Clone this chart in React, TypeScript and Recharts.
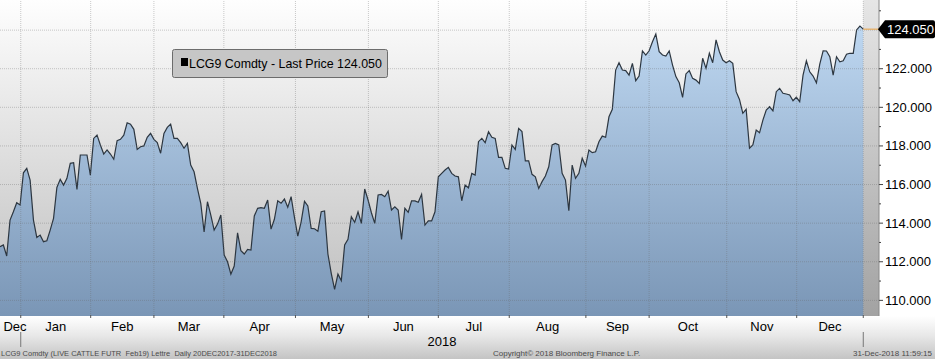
import React from 'react';
import { ComposedChart, Area, XAxis, YAxis, CartesianGrid, ReferenceLine, ReferenceArea } from 'recharts';

// LCG9 Comdty daily last price, 20 Dec 2017 - 31 Dec 2018 (one value per trading day)
const prices: number[] = [
  112.78, 112.87, 112.30, 114.16, 114.59, 115.06, 114.94, 116.61, 116.84, 116.23,
  114.16, 113.26, 113.38, 113.04, 113.09, 113.64, 114.25, 115.85, 116.27, 115.97,
  116.32, 117.10, 117.13, 115.75, 117.53, 117.53, 117.53, 116.49, 118.39, 118.56,
  118.05, 117.58, 117.79, 117.58, 117.31, 118.27, 118.34, 118.56, 119.20, 119.13,
  118.86, 117.82, 117.96, 118.00, 118.45, 118.65, 118.34, 118.17, 117.62, 118.65,
  118.96, 119.13, 118.39, 118.39, 118.17, 117.88, 118.13, 117.01, 116.66, 115.80,
  115.03, 113.55, 115.11, 114.42, 113.64, 113.95, 114.42, 112.35, 112.00, 111.36,
  111.78, 113.50, 112.57, 112.40, 112.64, 112.61, 114.37, 114.77, 114.80, 114.77,
  115.20, 113.69, 114.20, 115.16, 115.03, 115.25, 114.82, 115.37, 114.30, 113.33,
  114.07, 115.13, 114.89, 113.73, 113.71, 113.58, 114.59, 114.63, 112.40, 111.40,
  110.57, 111.36, 111.02, 112.87, 113.16, 114.33, 114.04, 114.59, 113.99, 115.77,
  115.20, 114.54, 113.99, 115.46, 115.49, 115.37, 115.66, 114.68, 114.85, 114.68,
  113.16, 114.77, 114.56, 115.15, 115.15, 115.08, 115.49, 113.90, 114.12, 114.12,
  114.59, 116.40, 116.58, 116.75, 116.89, 116.58, 116.44, 116.40, 115.16, 115.97,
  115.83, 116.58, 116.49, 118.22, 118.39, 118.17, 118.74, 118.45, 118.39, 117.41,
  117.41, 116.84, 116.80, 118.05, 117.82, 118.91, 118.74, 117.23, 117.23, 116.53,
  116.40, 115.80, 116.15, 116.44, 116.92, 118.05, 118.13, 118.05, 116.58, 116.23,
  114.64, 117.01, 116.32, 116.58, 117.36, 116.96, 117.79, 117.65, 117.70, 118.22,
  118.51, 118.45, 119.51, 119.90, 121.93, 122.31, 121.93, 121.90, 121.67, 122.28,
  121.38, 121.62, 122.92, 122.71, 122.93, 123.40, 123.80, 122.88, 122.71, 122.66,
  122.92, 122.19, 121.59, 121.27, 120.52, 121.73, 121.90, 121.50, 121.41, 121.24,
  122.54, 122.02, 122.80, 122.31, 123.49, 122.88, 122.45, 122.31, 122.41, 122.28,
  120.81, 120.41, 119.69, 119.90, 117.88, 118.05, 118.82, 118.68, 119.34, 119.86,
  120.03, 119.82, 120.81, 120.98, 120.73, 120.69, 120.64, 120.34, 120.52, 120.29,
  121.67, 122.41, 121.84, 121.62, 121.27, 122.24, 122.93, 122.92, 122.62, 121.67,
  122.62, 122.36, 122.41, 122.75, 122.80, 122.80, 124.01, 124.21, 124.05,
];

// x positions are trading-day indices
const monthLabels = ['Dec', 'Jan', 'Feb', 'Mar', 'Apr', 'May', 'Jun', 'Jul', 'Aug', 'Sep', 'Oct', 'Nov', 'Dec'];
const monthLabelAt = [4.5, 16.65, 36.55, 56.45, 77.6, 99.2, 120.55, 141.6, 163.65, 184.55, 205.6, 227.7, 248.05];
const monthStarts = [6.2, 27.1, 46.0, 66.9, 88.3, 110.1, 131.0, 152.2, 175.1, 194.0, 217.2, 238.1, 258];
const yearLabel = '2018';
const yearBounds = [6.2, 258];
const yearLabelAt = 132.1;
const xDomain: [number, number] = [0, 262.7];

const yMajor = [110, 112, 114, 116, 118, 120, 122, 124];
const yMinor = [111, 113, 115, 117, 119, 121, 123, 125];
const yDomain: [number, number] = [109.19, 125.56];
const lastPrice = 124.05;
const lastIndex = prices.length - 1;

const legendText = 'LCG9 Comdty - Last Price 124.050';
const footerLeft = 'LCG9 Comdty (LIVE CATTLE FUTR  Feb19) Lettre  Daily 20DEC2017-31DEC2018';
const footerMid = 'Copyright© 2018 Bloomberg Finance L.P.';
const footerRight = '31-Dec-2018 11:59:15';

const data = prices.map((v, i) => ({ i, v }));

const FONT = "'Liberation Sans', Arial, sans-serif";

const XTick = (props: any) => {
  const { x, y, payload } = props;
  const v = payload.value;
  const li = monthLabelAt.indexOf(v);
  if (li >= 0) {
    return (
      <text x={x} y={y + 14.5} textAnchor="middle" fontSize={13} fill="#000" fontFamily={FONT}>
        {monthLabels[li]}
      </text>
    );
  }
  if (v === yearLabelAt) {
    return (
      <text x={x} y={y + 29.5} textAnchor="middle" fontSize={13} fill="#000" fontFamily={FONT}>
        {yearLabel}
      </text>
    );
  }
  if (monthStarts.indexOf(v) >= 0) {
    return (
      <g>
        <line x1={x} x2={x} y1={y - 1} y2={y + 2} stroke="#555" />
        {yearBounds.indexOf(v) >= 0 && <line x1={x} x2={x} y1={y + 16} y2={y + 31} stroke="#777" />}
      </g>
    );
  }
  return <g />;
};

const YTick = (props: any) => {
  const { x, y, payload } = props;
  const v = payload.value;
  if (v === lastPrice) {
    return (
      <g>
        <path
          d={`M${x - 1},${y} L${x + 6},${y - 9} H${x + 54} Q${x + 56},${y - 9} ${x + 56},${y - 7} V${y + 7} Q${x + 56},${y + 9} ${x + 54},${y + 9} H${x + 6} Z`}
          fill="#000"
        />
        <text x={x + 8} y={y + 4.5} fontSize={13} fill="#fff" fontFamily={FONT}>
          {lastPrice.toFixed(3)}
        </text>
      </g>
    );
  }
  if (yMinor.indexOf(v) >= 0) {
    return <line x1={x} x2={x + 2} y1={y} y2={y} stroke="#444" />;
  }
  if (v === 124) return <g />;
  return (
    <g>
      <line x1={x} x2={x + 4} y1={y} y2={y} stroke="#444" />
      <text x={x + 6} y={y + 4.5} fontSize={13} fill="#000" fontFamily={FONT}>
        {v.toFixed(3)}
      </text>
    </g>
  );
};

export default function App() {
  const xTicks = [...monthLabelAt, ...monthStarts, yearLabelAt];
  const yTicks = [...yMajor, ...yMinor, lastPrice].sort((a, b) => a - b);
  return (
    <div style={{ position: 'absolute', left: 0, top: 0, width: 935, height: 359, background: '#fff', overflow: 'hidden' }}>
      <div
        style={{
          position: 'absolute',
          left: 0,
          top: 316,
          width: 935,
          height: 43,
          background: 'linear-gradient(to bottom, #ffffff 0%, #e8e8e8 45%, #c4c4c4 100%)',
        }}
      />
      <div style={{ position: 'absolute', left: 0, top: 0 }}>
        <ComposedChart width={935} height={359} data={data} margin={{ top: 0, right: 0, bottom: 0, left: 0 }}>
          <defs>
            <linearGradient id="bgGrad" x1="0" y1="0" x2="0" y2="1">
              <stop offset="0%" stopColor="#fefefe" />
              <stop offset="100%" stopColor="#bdbdbd" />
            </linearGradient>
            <linearGradient id="stripGrad" x1="0" y1="0" x2="0" y2="1">
              <stop offset="0%" stopColor="#e6e6e6" />
              <stop offset="100%" stopColor="#a2a2a2" />
            </linearGradient>
            <linearGradient id="areaGrad" gradientUnits="userSpaceOnUse" x1="0" y1="0" x2="0" y2="316">
              <stop offset="0%" stopColor="#c4ddf6" />
              <stop offset="100%" stopColor="#7a96b6" />
            </linearGradient>
          </defs>
          <CartesianGrid horizontal={false} vertical={false} fill="url(#bgGrad)" />
          <XAxis
            dataKey="i"
            type="number"
            domain={xDomain}
            allowDataOverflow
            ticks={xTicks}
            interval={0}
            tick={<XTick />}
            tickLine={false}
            tickSize={0}
            tickMargin={0}
            height={43}
            axisLine={false}
          />
          <YAxis
            orientation="right"
            type="number"
            domain={yDomain}
            allowDataOverflow
            ticks={yTicks}
            interval={0}
            tick={<YTick />}
            tickLine={false}
            tickSize={0}
            tickMargin={0}
            width={56}
            axisLine={{ stroke: '#8a8a8a' }}
          />
          <ReferenceArea x1={lastIndex} x2={xDomain[1]} fill="url(#stripGrad)" fillOpacity={1} stroke="none" ifOverflow="visible" />
          <Area
            type="linear"
            dataKey="v"
            stroke="#2c3640"
            strokeWidth={1.2}
            fill="url(#areaGrad)"
            fillOpacity={1}
            isAnimationActive={false}
            dot={false}
            activeDot={false}
          />
          {monthStarts.map((m) => (
            <ReferenceLine key={'vx' + m} x={m} stroke="#6a6a6a" strokeOpacity={0.35} strokeDasharray="1 1" ifOverflow="visible" />
          ))}
          {yMajor.map((m) => (
            <ReferenceLine key={'hy' + m} y={m} stroke="#6a6a6a" strokeOpacity={0.35} strokeDasharray="1 1" ifOverflow="visible" />
          ))}
          <ReferenceLine
            segment={[{ x: lastIndex, y: lastPrice }, { x: xDomain[1], y: lastPrice }]}
            stroke="#e8a040"
            strokeWidth={1}
            ifOverflow="visible"
          />
        </ComposedChart>
      </div>
      <svg width={935} height={359} style={{ position: 'absolute', left: 0, top: 0, pointerEvents: 'none' }}>
        <rect x={172.5} y={49.5} width={215} height={28} rx={2} fill="#c6c6c6" stroke="#6c6c6c" />
        <rect x={181} y={58} width={7} height={8} fill="#000" />
        <text x={189} y={68} fontSize={12.4} fill="#000" fontFamily={FONT}>
          {legendText}
        </text>
        <text x={1} y={356} fontSize={8} fill="#4a4a4a" fontFamily={FONT} textLength={276} lengthAdjust="spacingAndGlyphs" style={{ whiteSpace: 'pre' }}>
          {footerLeft}
        </text>
        <text x={493} y={356} fontSize={8} fill="#4a4a4a" fontFamily={FONT}>
          {footerMid}
        </text>
        <text x={932} y={356} fontSize={8} fill="#4a4a4a" fontFamily={FONT} textAnchor="end">
          {footerRight}
        </text>
      </svg>
    </div>
  );
}
